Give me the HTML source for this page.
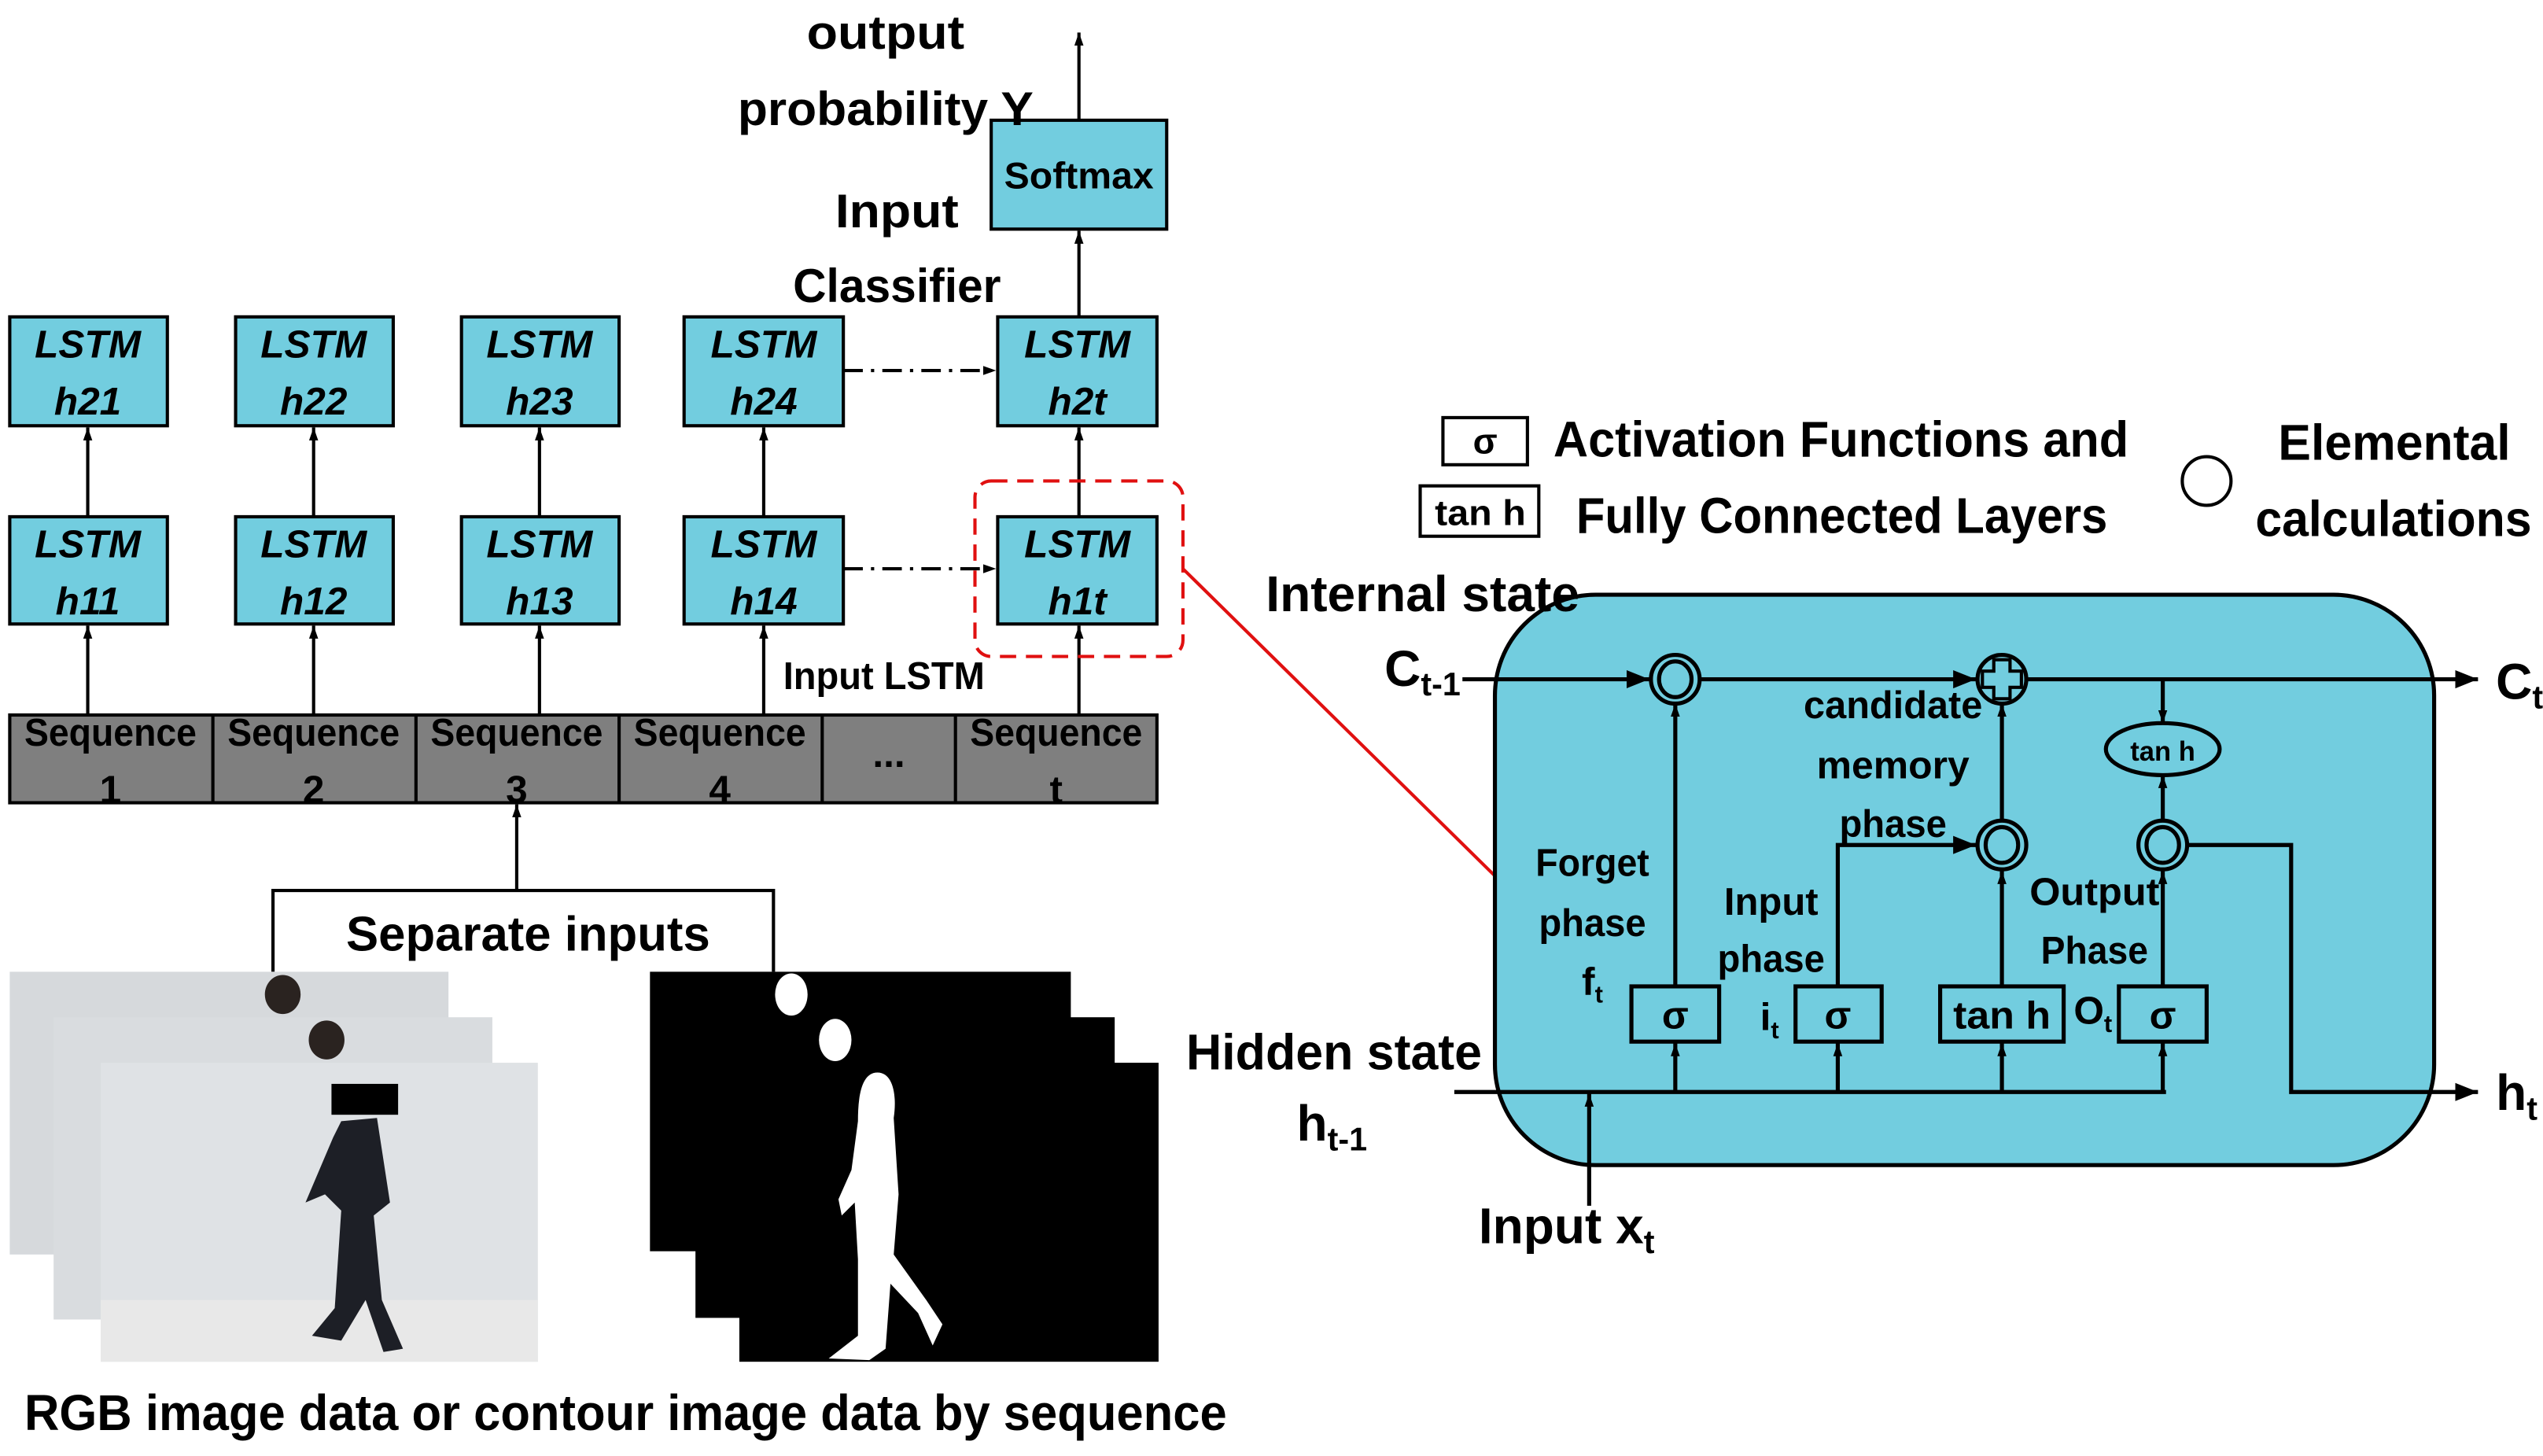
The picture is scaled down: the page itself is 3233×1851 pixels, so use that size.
<!DOCTYPE html>
<html><head><meta charset="utf-8"><style>
html,body{margin:0;padding:0;background:#fff;}
svg{display:block;}
text{font-family:"Liberation Sans Narrow","Liberation Sans",sans-serif;font-weight:bold;fill:#000;}
</style></head><body>
<svg width="3233" height="1851" viewBox="0 0 1565 896" preserveAspectRatio="none" xmlns="http://www.w3.org/2000/svg">
<defs>
<marker id="a" viewBox="0 0 10 10" refX="10" refY="5" markerWidth="8" markerHeight="14" orient="auto" markerUnits="userSpaceOnUse"><path d="M0,1.5 L10,5 L0,8.5 z" fill="#000"/></marker>
<marker id="b" viewBox="0 0 10 10" refX="10" refY="5" markerWidth="14" markerHeight="14" orient="auto" markerUnits="userSpaceOnUse"><path d="M0,1 L10,5 L0,9 z" fill="#000"/></marker>
</defs>
<g stroke="#000" stroke-width="2" fill="#72cddf">
<rect x="6" y="195" width="97" height="67"/><rect x="145" y="195" width="97" height="67"/><rect x="284" y="195" width="97" height="67"/><rect x="421" y="195" width="98" height="67"/><rect x="614" y="195" width="98" height="67"/>
<rect x="6" y="318" width="97" height="66"/><rect x="145" y="318" width="97" height="66"/><rect x="284" y="318" width="97" height="66"/><rect x="421" y="318" width="98" height="66"/><rect x="614" y="318" width="98" height="66"/>
<rect x="610" y="74" width="108" height="67"/>
</g>
<g font-style="italic" font-size="24" text-anchor="middle">
<text x="54" y="220">LSTM</text><text x="54" y="255">h21</text>
<text x="193" y="220">LSTM</text><text x="193" y="255">h22</text>
<text x="332" y="220">LSTM</text><text x="332" y="255">h23</text>
<text x="470" y="220">LSTM</text><text x="470" y="255">h24</text>
<text x="663" y="220">LSTM</text><text x="663" y="255">h2t</text>
<text x="54" y="343">LSTM</text><text x="54" y="378">h11</text>
<text x="193" y="343">LSTM</text><text x="193" y="378">h12</text>
<text x="332" y="343">LSTM</text><text x="332" y="378">h13</text>
<text x="470" y="343">LSTM</text><text x="470" y="378">h14</text>
<text x="663" y="343">LSTM</text><text x="663" y="378">h1t</text>
</g>
<text x="664" y="116" font-size="23" text-anchor="middle" textLength="92" lengthAdjust="spacingAndGlyphs">Softmax</text>
<rect x="6" y="440" width="706" height="54" fill="#7f7f7f" stroke="#000" stroke-width="2"/>
<g stroke="#000" stroke-width="2"><line x1="131" y1="440" x2="131" y2="494"/><line x1="256" y1="440" x2="256" y2="494"/><line x1="381" y1="440" x2="381" y2="494"/><line x1="506" y1="440" x2="506" y2="494"/><line x1="588" y1="440" x2="588" y2="494"/></g>
<g font-size="24" text-anchor="middle">
<text x="68" y="459" textLength="106" lengthAdjust="spacingAndGlyphs">Sequence</text><text x="68" y="494">1</text>
<text x="193" y="459" textLength="106" lengthAdjust="spacingAndGlyphs">Sequence</text><text x="193" y="494">2</text>
<text x="318" y="459" textLength="106" lengthAdjust="spacingAndGlyphs">Sequence</text><text x="318" y="494">3</text>
<text x="443" y="459" textLength="106" lengthAdjust="spacingAndGlyphs">Sequence</text><text x="443" y="494">4</text>
<text x="547" y="472">...</text>
<text x="650" y="459" textLength="106" lengthAdjust="spacingAndGlyphs">Sequence</text><text x="650" y="494">t</text>
</g>
<g stroke="#000" stroke-width="2" fill="none" marker-end="url(#a)">
<line x1="54" y1="440" x2="54" y2="385"/><line x1="193" y1="440" x2="193" y2="385"/><line x1="332" y1="440" x2="332" y2="385"/><line x1="470" y1="440" x2="470" y2="385"/><line x1="664" y1="440" x2="664" y2="385"/>
<line x1="54" y1="318" x2="54" y2="263"/><line x1="193" y1="318" x2="193" y2="263"/><line x1="332" y1="318" x2="332" y2="263"/><line x1="470" y1="318" x2="470" y2="263"/><line x1="664" y1="318" x2="664" y2="263"/>
<line x1="664" y1="195" x2="664" y2="142"/><line x1="664" y1="74" x2="664" y2="20"/>
<line x1="519" y1="228" x2="613" y2="228" stroke-dasharray="12,5,2,5"/>
<line x1="519" y1="350" x2="613" y2="350" stroke-dasharray="12,5,2,5"/>
<line x1="318" y1="548" x2="318" y2="495"/>
</g>
<rect x="600" y="296" width="128" height="108" rx="10" fill="none" stroke="#e01010" stroke-width="2" stroke-dasharray="10,6"/>
<line x1="728" y1="350" x2="921" y2="540" stroke="#e01010" stroke-width="2"/>
<text x="545" y="30" font-size="29" text-anchor="middle" textLength="97" lengthAdjust="spacingAndGlyphs">output</text>
<text x="545" y="77" font-size="29" text-anchor="middle" textLength="182" lengthAdjust="spacingAndGlyphs">probability Y</text>
<text x="552" y="140" font-size="29" text-anchor="middle" textLength="76" lengthAdjust="spacingAndGlyphs">Input</text>
<text x="552" y="186" font-size="29" text-anchor="middle" textLength="128" lengthAdjust="spacingAndGlyphs">Classifier</text>
<text x="544" y="424" font-size="24" text-anchor="middle" textLength="124" lengthAdjust="spacingAndGlyphs">Input LSTM</text>
<polyline points="168,598 168,548 476,548 476,598" fill="none" stroke="#000" stroke-width="2"/>
<text x="325" y="585" font-size="30" text-anchor="middle" textLength="224" lengthAdjust="spacingAndGlyphs">Separate inputs</text>
<!-- photos -->
<rect x="6" y="598" width="270" height="174" fill="#d6d9dc"/>
<rect x="33" y="626" width="270" height="186" fill="#d9dcdf"/>
<rect x="62" y="654" width="269" height="184" fill="#dfe2e5"/>
<rect x="62" y="800" width="269" height="38" fill="#e8e8e8"/>
<ellipse cx="174" cy="612" rx="11" ry="12" fill="#2a2320"/>
<ellipse cx="201" cy="640" rx="11" ry="12" fill="#2a2320"/>
<rect x="204" y="667" width="41" height="19" fill="#000"/>
<path d="M210,690 L232,688 L240,740 L230,748 L235,800 L248,830 L236,832 L225,800 L210,825 L192,822 L206,805 L210,745 L200,735 L188,740 L205,700 Z" fill="#1d1f26"/>
<rect x="400" y="598" width="259" height="172" fill="#000"/>
<rect x="428" y="626" width="258" height="185" fill="#000"/>
<rect x="455" y="654" width="258" height="184" fill="#000"/>
<ellipse cx="487" cy="612" rx="10" ry="13" fill="#fff"/>
<ellipse cx="514" cy="640" rx="10" ry="13" fill="#fff"/>
<path d="M540,660 C550,660 552,675 550,688 L553,735 L550,772 L570,800 L580,815 L574,828 L565,808 L548,790 L545,830 L535,837 L510,836 L528,822 L528,775 L526,740 L518,748 L516,738 L524,720 L528,690 C528,675 530,660 540,660 Z" fill="#fff"/>
<text x="15" y="880" font-size="31" textLength="740" lengthAdjust="spacingAndGlyphs">RGB image data or contour image data by sequence</text>
<!-- right LSTM cell -->
<rect x="920" y="366" width="578" height="351" rx="62" fill="#72cddf" stroke="#000" stroke-width="2.5"/>
<g stroke="#000" stroke-width="2.5" fill="none">
<line x1="900" y1="418" x2="1015" y2="418" marker-end="url(#b)"/>
<line x1="1046" y1="418" x2="1216" y2="418" marker-end="url(#b)"/>
<line x1="1248" y1="418" x2="1525" y2="418" marker-end="url(#b)"/>
<line x1="1331" y1="418" x2="1331" y2="445" marker-end="url(#a)"/>
<line x1="1331" y1="505" x2="1331" y2="477" marker-end="url(#a)"/>
<line x1="1031" y1="607" x2="1031" y2="433" marker-end="url(#a)"/>
<line x1="1232" y1="505" x2="1232" y2="433" marker-end="url(#a)"/>
<line x1="1232" y1="607" x2="1232" y2="536" marker-end="url(#a)"/>
<line x1="1331" y1="607" x2="1331" y2="536" marker-end="url(#a)"/>
<polyline points="1131,607 1131,520 1216,520" marker-end="url(#b)"/>
<polyline points="1347,520 1410,520 1410,672 1525,672" marker-end="url(#b)"/>
<line x1="895" y1="672" x2="1333" y2="672"/>
<line x1="1031" y1="672" x2="1031" y2="642" marker-end="url(#a)"/>
<line x1="1131" y1="672" x2="1131" y2="642" marker-end="url(#a)"/>
<line x1="1232" y1="672" x2="1232" y2="642" marker-end="url(#a)"/>
<line x1="1331" y1="672" x2="1331" y2="642" marker-end="url(#a)"/>
<line x1="978" y1="742" x2="978" y2="673" marker-end="url(#a)"/>
<ellipse cx="1031" cy="418" rx="15" ry="15"/><ellipse cx="1031" cy="418" rx="10" ry="11"/>
<ellipse cx="1232" cy="520" rx="15" ry="15"/><ellipse cx="1232" cy="520" rx="10" ry="11"/>
<ellipse cx="1331" cy="520" rx="15" ry="15"/><ellipse cx="1331" cy="520" rx="10" ry="11"/>
<ellipse cx="1232" cy="418" rx="15" ry="15"/>
<path d="M1227,406 h10 v7 h7 v10 h-7 v7 h-10 v-7 h-7 v-10 h7 z" stroke-width="2"/>
<ellipse cx="1331" cy="461" rx="35" ry="16"/>
<rect x="1004" y="607" width="54" height="34"/><rect x="1105" y="607" width="53" height="34"/><rect x="1194" y="607" width="76" height="34"/><rect x="1304" y="607" width="54" height="34"/>
<rect x="888" y="257" width="52" height="29" stroke-width="2"/><rect x="874" y="299" width="73" height="31" stroke-width="2"/>
<circle cx="1358" cy="296" r="15" stroke-width="2"/>
</g>
<g font-size="24" text-anchor="middle">
<text x="1031" y="633">σ</text><text x="1131" y="633">σ</text><text x="1232" y="633" textLength="60" lengthAdjust="spacingAndGlyphs">tan h</text><text x="1331" y="633">σ</text>
<text x="1331" y="468" font-size="17" textLength="40" lengthAdjust="spacingAndGlyphs">tan h</text>
<text x="914" y="279" font-size="22">σ</text><text x="911" y="323" font-size="22" textLength="56" lengthAdjust="spacingAndGlyphs">tan h</text>
<text x="980" y="539" textLength="70" lengthAdjust="spacingAndGlyphs">Forget</text><text x="980" y="576" textLength="66" lengthAdjust="spacingAndGlyphs">phase</text>
<text x="980" y="612">f<tspan font-size="15" dy="5">t</tspan></text>
<text x="1090" y="563" textLength="58" lengthAdjust="spacingAndGlyphs">Input</text><text x="1090" y="598" textLength="66" lengthAdjust="spacingAndGlyphs">phase</text>
<text x="1089" y="634">i<tspan font-size="15" dy="5">t</tspan></text>
<text x="1165" y="442" textLength="110" lengthAdjust="spacingAndGlyphs">candidate</text><text x="1165" y="479" textLength="94" lengthAdjust="spacingAndGlyphs">memory</text><text x="1165" y="515" textLength="66" lengthAdjust="spacingAndGlyphs">phase</text>
<text x="1289" y="557" textLength="80" lengthAdjust="spacingAndGlyphs">Output</text><text x="1289" y="593" textLength="66" lengthAdjust="spacingAndGlyphs">Phase</text>
<text x="1288" y="630">O<tspan font-size="15" dy="5">t</tspan></text>
</g>
<g font-size="31">
<text x="956" y="281" textLength="354" lengthAdjust="spacingAndGlyphs">Activation Functions and</text>
<text x="970" y="328" textLength="327" lengthAdjust="spacingAndGlyphs">Fully Connected Layers</text>
<text x="1402" y="283" textLength="143" lengthAdjust="spacingAndGlyphs">Elemental</text>
<text x="1388" y="330" textLength="170" lengthAdjust="spacingAndGlyphs">calculations</text>
<text x="779" y="376" textLength="193" lengthAdjust="spacingAndGlyphs">Internal state</text>
<text x="730" y="658" textLength="182" lengthAdjust="spacingAndGlyphs">Hidden state</text>
<text x="852" y="422">C<tspan font-size="20" dy="6">t-1</tspan></text>
<text x="798" y="702">h<tspan font-size="20" dy="6">t-1</tspan></text>
<text x="1536" y="430">C<tspan font-size="20" dy="6">t</tspan></text>
<text x="1536" y="683">h<tspan font-size="20" dy="6">t</tspan></text>
<text x="910" y="765">Input x<tspan font-size="20" dy="6">t</tspan></text>
</g>
</svg>
</body></html>
